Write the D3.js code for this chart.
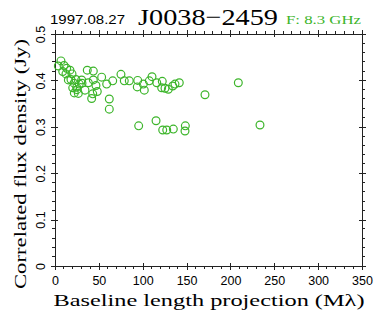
<!DOCTYPE html>
<html>
<head>
<meta charset="utf-8">
<script src="https://cdn.jsdelivr.net/npm/d3@7"></script>
<style>
  body { margin: 0; background: #fff; }
  svg { display: block; }
  .axis path, .axis line { stroke: #222; stroke-width: 1; shape-rendering: crispEdges; }
  .axis text { font-family: "Liberation Sans", Arial, sans-serif; font-size: 12.5px; fill: #000; }
</style>
</head>
<body>
<svg id="chart" width="383" height="311"></svg>
<script>
// baseline projection (M lambda) and correlated flux (Jy)
var baseline = [6.8, 3.8, 10.3, 13.3, 17.1, 8.8, 12.5, 19.4, 15.2, 18.2,
  23.9, 30.4, 27.7, 21.7, 38.0, 20.2, 24.7, 22.0, 26.6, 34.2,
  36.8, 43.7, 43.7, 46.7, 43.0, 41.8, 48.2, 53.2, 58.9, 65.8,
  61.9, 61.9, 75.2, 79.0, 84.7, 94.3, 93.8, 100.7, 101.8, 107.5,
  110.6, 116.0, 122.3, 121.6, 125.4, 129.2, 134.2, 136.8, 141.7, 171.0,
  209.0, 95.4, 115.2, 122.8, 127.4, 134.9, 148.6, 148.2, 233.7, 25.0, 30.8];
var flux = [0.442, 0.431, 0.432, 0.426, 0.422, 0.419, 0.414, 0.414, 0.401, 0.402,
  0.402, 0.401, 0.392, 0.394, 0.395, 0.384, 0.385, 0.373, 0.372, 0.379,
  0.422, 0.420, 0.401, 0.389, 0.371, 0.361, 0.376, 0.407, 0.392, 0.399,
  0.360, 0.338, 0.413, 0.399, 0.399, 0.400, 0.386, 0.392, 0.379, 0.399,
  0.408, 0.395, 0.398, 0.384, 0.383, 0.381, 0.388, 0.392, 0.395, 0.369,
  0.395, 0.302, 0.313, 0.293, 0.293, 0.295, 0.302, 0.291, 0.304, 0.380, 0.394];

var xMajor = [0, 50, 100, 150, 200, 250, 300, 350];
var yMajor = [0, 0.1, 0.2, 0.3, 0.4, 0.5];

var svg = d3.select("#chart");
var pLeft = 55, pRight = 362, pTop = 34, pBottom = 266;
var green = "#3cb52a";
var serif = "Liberation Serif, Times New Roman, serif";

var x = d3.scaleLinear().domain([0, 350]).range([pLeft, pRight]);
var y = d3.scaleLinear().domain([0, 0.5]).range([pBottom, pTop]);

var xMinor = d3.range(0, 351, 10).filter(function(d){ return d % 50 != 0; });
var yMinor = d3.range(0, 51, 2).map(function(d){ return d / 100; }).filter(function(d){ return Math.round(d * 100) % 10 != 0; });

// bottom
var gb = svg.append("g").attr("class", "axis").attr("transform", "translate(0," + pBottom + ")");
gb.call(d3.axisBottom(x).tickValues(xMajor).tickSize(4).tickPadding(6).tickFormat(d3.format("d")));
gb.selectAll(".tick line").attr("y1", -3);
gb.selectAll(".minor").data(xMinor).enter().append("line")
  .attr("x1", x).attr("x2", x).attr("y1", 0).attr("y2", 3);
gb.select(".domain").attr("d", "M" + pLeft + ",0H" + pRight);

// top
var gt = svg.append("g").attr("class", "axis").attr("transform", "translate(0," + pTop + ")");
gt.call(d3.axisTop(x).tickValues(xMajor).tickSize(4).tickFormat(""));
gt.selectAll(".tick line").attr("y1", 3);
gt.selectAll(".minor").data(xMinor).enter().append("line")
  .attr("x1", x).attr("x2", x).attr("y1", 0).attr("y2", -3);
gt.select(".domain").attr("d", "M" + pLeft + ",0H" + pRight);

// left
var gl = svg.append("g").attr("class", "axis").attr("transform", "translate(" + pLeft + ",0)");
gl.call(d3.axisLeft(y).tickValues(yMajor).tickSize(4).tickFormat(function(d){ return d == 0 ? "0" : d3.format(".1f")(d); }));
gl.selectAll(".tick line").attr("x1", 3);
gl.selectAll(".tick text")
  .attr("x", null).attr("dy", null).attr("text-anchor", "middle")
  .attr("transform", "translate(-10,0) rotate(-90)");
gl.selectAll(".minor").data(yMinor).enter().append("line")
  .attr("y1", y).attr("y2", y).attr("x1", 0).attr("x2", -3);
gl.select(".domain").attr("d", "M0," + (pTop - 4) + "V" + pBottom);

// right
var gr = svg.append("g").attr("class", "axis").attr("transform", "translate(" + pRight + ",0)");
gr.call(d3.axisRight(y).tickValues(yMajor).tickSize(4).tickFormat(""));
gr.selectAll(".tick line").attr("x1", -3);
gr.selectAll(".minor").data(yMinor).enter().append("line")
  .attr("y1", y).attr("y2", y).attr("x1", 0).attr("x2", 3);
gr.select(".domain").attr("d", "M0," + (pTop - 4) + "V" + (pBottom + 4));

// points
svg.append("g").selectAll("circle")
  .data(baseline.map(function(d, i){ return [d, flux[i]]; }))
  .enter().append("circle")
  .attr("cx", function(d){ return x(d[0]); })
  .attr("cy", function(d){ return y(d[1]); })
  .attr("r", 3.9)
  .attr("fill", "none")
  .attr("stroke", green)
  .attr("stroke-width", 1.2);

// titles
svg.append("text").attr("x", 50).attr("y", 24)
  .attr("font-family", "Liberation Sans, Arial, sans-serif").attr("font-size", 12.5)
  .attr("textLength", 75).attr("lengthAdjust", "spacingAndGlyphs")
  .text("1997.08.27");
svg.append("text").attr("x", 138).attr("y", 25)
  .attr("font-family", serif).attr("font-size", 24)
  .attr("textLength", 140).attr("lengthAdjust", "spacingAndGlyphs")
  .text("J0038\u22122459");
svg.append("text").attr("x", 286).attr("y", 24)
  .attr("font-family", serif).attr("font-size", 13)
  .attr("fill", green)
  .attr("textLength", 75).attr("lengthAdjust", "spacingAndGlyphs")
  .text("F: 8.3 GHz");

svg.append("text").attr("x", 209).attr("y", 306)
  .attr("text-anchor", "middle")
  .attr("font-family", serif).attr("font-size", 17)
  .attr("textLength", 311).attr("lengthAdjust", "spacingAndGlyphs")
  .text("Baseline length projection (M\u03bb)");
svg.append("text")
  .attr("transform", "translate(26,164) rotate(-90)")
  .attr("text-anchor", "middle")
  .attr("font-family", serif).attr("font-size", 17)
  .attr("textLength", 250).attr("lengthAdjust", "spacingAndGlyphs")
  .text("Correlated flux density (Jy)");
</script>
</body>
</html>
